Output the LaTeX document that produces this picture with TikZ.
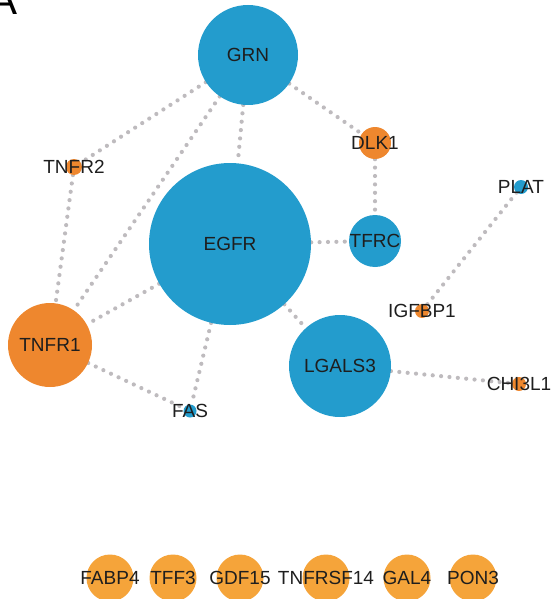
\documentclass[tikz,border=0pt]{standalone}
\usepackage{fontspec}
\setmainfont{Liberation Sans}
\usepackage{tikz}
\usetikzlibrary{backgrounds}

\definecolor{geneblue}{RGB}{35,156,205}
\definecolor{geneorange}{RGB}{238,135,46}
\definecolor{genelight}{RGB}{245,164,58}
\definecolor{linkgray}{RGB}{190,187,190}
\definecolor{genetext}{RGB}{30,30,30}

\begin{document}
\begin{tikzpicture}[x=1pt,y=-1pt,
		font=\fontsize{19}{20}\selectfont,
		gene/.style={circle,fill=#1,inner sep=0pt},
		every label/.style={text=genetext},
		every edge/.style={draw=linkgray,line width=4.2pt,dash pattern=on 0pt off 8.4pt,line cap=round}]
		\useasboundingbox (0,0) rectangle (550,599);
		\node[anchor=base east,inner sep=0pt,font=\fontsize{42}{42}\selectfont] (panel) at (18,15) {A};
		% connected genes
		\node[gene=geneblue,minimum size=100pt,label=center:GRN]      (grn)    at (248,55)  {};
		\node[gene=geneorange,minimum size=32pt,label=center:DLK1]    (dlk1)   at (375,143) {};
		\node[gene=geneorange,minimum size=16pt,label=center:TNFR2]   (tnfr2)  at (74,167)  {};
		\node[gene=geneblue,minimum size=14pt,label=center:PLAT]      (plat)   at (521,187) {};
		\node[gene=geneblue,minimum size=162pt,label=center:EGFR]     (egfr)   at (230,244) {};
		\node[gene=geneblue,minimum size=52pt,label=center:TFRC]      (tfrc)   at (375,241) {};
		\node[gene=geneorange,minimum size=14pt,label=center:IGFBP1]  (igfbp1) at (422,311) {};
		\node[gene=geneorange,minimum size=84pt,label=center:TNFR1]   (tnfr1)  at (50,345)  {};
		\node[gene=geneblue,minimum size=102pt,label=center:LGALS3]   (lgals3) at (340,366) {};
		\node[gene=geneorange,minimum size=14pt,label=center:CHI3L1]  (chi3l1) at (519,384) {};
		\node[gene=geneblue,minimum size=13pt,label=center:FAS]       (fas)    at (190,411) {};
		% unconnected genes
		\foreach \gname/\gx in {FABP4/110,TFF3/173,GDF15/240,TNFRSF14/326,GAL4/407,PON3/473}
			\node[gene=genelight,minimum size=47pt,label=center:\gname] (\gname) at (\gx,578) {};
		\begin{scope}[on background layer]
			\path
				(grn)    edge (tnfr2) edge (tnfr1) edge (egfr) edge (dlk1)
				(tnfr2)  edge (tnfr1)
				(egfr)   edge (tnfr1) edge (fas) edge (tfrc) edge (lgals3)
				(tnfr1)  edge (fas)
				(dlk1)   edge (tfrc)
				(plat)   edge (igfbp1)
				(lgals3) edge (chi3l1);
		\end{scope}
	\end{tikzpicture}
\end{document}
